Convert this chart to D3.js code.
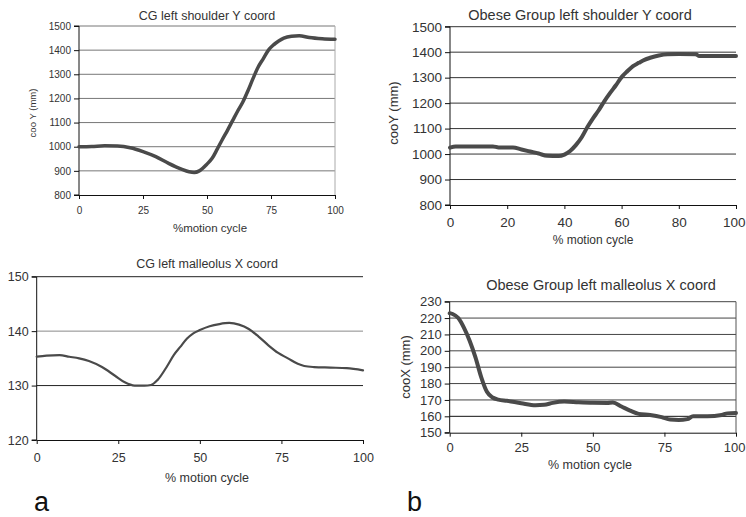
<!DOCTYPE html>
<html><head><meta charset="utf-8">
<script src="https://cdn.jsdelivr.net/npm/d3@7"></script>
<style>
html,body{margin:0;padding:0;background:#fff;}
svg text{font-family:"Liberation Sans",Arial,sans-serif;fill:#333;}
</style></head>
<body><svg id="c" width="746" height="517"></svg>
<script>
// ---- data ----
const p1X = [0,5,10,15,20,25,30,35,40,43,45,47,50,52,54,56,58,60,62,64,66,68,70,72,74,76,78,80,83,86,90,95,100];
const p1Y = [1000,1001,1004,1003,996,980,959,931,907,896,893,900,928,952,990,1030,1068,1108,1148,1185,1232,1283,1330,1365,1400,1422,1438,1450,1458,1460,1452,1447,1445];

const p2X = [0,2,15,17,22,25,28,31,34,38,40,42,44,46,48,50,52,54,56,58,60,62,64,66,68,70,73,76,80,86,87,100];
const p2Y = [1025,1030,1030,1026,1026,1018,1010,1002,993,992,998,1012,1035,1065,1105,1140,1172,1208,1240,1270,1302,1325,1345,1358,1370,1378,1387,1392,1393,1392,1385,1385];

const p3X = [0,3,7,10,13,16,20,24,27,30,33,35,37,40,42,44,46,48,50,53,56,59,62,65,68,71,74,77,80,82,85,90,95,100];
const p3Y = [135.3,135.5,135.6,135.3,135.0,134.5,133.4,131.8,130.6,130.0,130.0,130.1,131.0,133.6,135.6,137.1,138.6,139.6,140.2,140.9,141.3,141.5,141.2,140.4,139.0,137.4,136.0,135.0,134.0,133.6,133.4,133.3,133.2,132.8];

const p4X = [0,1,3,5,7,9,11,13,15,17,20,25,30,33,36,40,45,50,55,57,60,63,66,70,74,77,80,83,85,90,95,97,100];
const p4Y = [223,222.5,220,214,206,196,184,175,171.5,170.2,169.5,168,166.8,167,168.2,169,168.6,168.3,168.2,168.4,166,163.5,161.5,160.8,159.5,158,157.8,158.3,160,160,160.8,161.8,162];

const titles = ["CG left shoulder Y coord","Obese Group left shoulder Y coord","CG left malleolus X coord","Obese Group left malleolus X coord"];
const yTitles = ["coo Y (mm)","cooY (mm)","","cooX (mm)"];
const xTitles = ["%motion cycle","% motion cycle","% motion cycle","% motion cycle"];
const yTicks1 = [800,900,1000,1100,1200,1300,1400,1500];
const yTicks2 = [800,900,1000,1100,1200,1300,1400,1500];
const yTicks3 = [120,130,140,150];
const yTicks4 = [150,160,170,180,190,200,210,220,230];
const xTicks1 = [0,25,50,75,100];
const xTicks2 = [0,20,40,60,80,100];
const xTicks3 = [0,25,50,75,100];
const xTicks4 = [0,25,50,75,100];
const panelLabels = ["a","b"];

// ---- layout ----
const svg = d3.select("#c");
const W = 746;
const panels = [
  {xs:p1X, ys:p1Y, yd:[800,1500], yt:yTicks1, xt:xTicks1, x0:79, x1:335, yT:26, yB:195,
   title:titles[0], tx:207, ty:19.5, tfs:12.5, tickFs:10, xtY:214, xTitle:xTitles[0], xtitleX:210, xtitleY:232, xtitleFs:11.5,
   yTitle:yTitles[0], ytX:33, ytY:113, ytFs:9.5, lw:3.5, grid:"#777", gridW:1, rightBorder:"#aaa"},
  {xs:p2X, ys:p2Y, yd:[800,1500], yt:yTicks2, xt:xTicks2, x0:450, x1:736, yT:26.7, yB:205,
   title:titles[1], tx:580, ty:20, tfs:14.5, tickFs:13.5, xtY:227, xTitle:xTitles[1], xtitleX:593, xtitleY:244, xtitleFs:12,
   yTitle:yTitles[1], ytX:393, ytY:113, ytFs:13, lw:4, grid:"#333", gridW:1, rightBorder:null},
  {xs:p3X, ys:p3Y, yd:[120,150], yt:yTicks3, xt:xTicks3, x0:36.7, x1:363, yT:276.7, yB:440,
   title:titles[2], tx:207, ty:267.5, tfs:12.5, tickFs:12.5, xtY:461.5, xTitle:xTitles[2], xtitleX:207, xtitleY:482, xtitleFs:12.5,
   yTitle:"", lw:2.2, grid:"#222", gridW:1, gridColors:{140:"#8a8a8a"}, rightBorder:null},
  {xs:p4X, ys:p4Y, yd:[150,230], yt:yTicks4, xt:xTicks4, x0:449.7, x1:736, yT:301.7, yB:432.7,
   title:titles[3], tx:601, ty:290, tfs:14.5, tickFs:13, xtY:451.5, xTitle:xTitles[3], xtitleX:590, xtitleY:468.5, xtitleFs:12.5,
   yTitle:yTitles[3], ytX:405, ytY:367, ytFs:13, lw:4, grid:"#444", gridW:1, gridColors:{160:"#111"}, rightBorder:"#555"}
];

panels.forEach((p) => {
  const x = d3.scaleLinear().domain([0,100]).range([p.x0, p.x1]);
  const y = d3.scaleLinear().domain(p.yd).range([p.yB, p.yT]);
  const g = svg.append("g");

  // gridlines
  g.selectAll("line.grid").data(p.yt.filter(v => v !== p.yd[0])).enter().append("line")
    .attr("x1", p.x0).attr("x2", p.x1)
    .attr("y1", d => y(d)).attr("y2", d => y(d))
    .attr("stroke", d => (p.gridColors && p.gridColors[d]) || p.grid)
    .attr("stroke-width", p.gridW);

  if (p.rightBorder) {
    g.append("line").attr("x1", p.x1).attr("x2", p.x1).attr("y1", p.yT).attr("y2", p.yB)
      .attr("stroke", p.rightBorder).attr("stroke-width", 1);
  }

  // axes
  const ya = d3.axisLeft(y).tickValues(p.yt).tickSize(5).tickPadding(3).tickFormat(d3.format("d"));
  const yg = g.append("g").attr("transform", `translate(${p.x0},0)`).call(ya);
  yg.select(".domain").attr("stroke", "#111").attr("d", `M-5,${p.yT}H0V${p.yB}H-5`);
  yg.selectAll(".tick line").attr("stroke", "#111");
  yg.selectAll(".tick text").attr("font-size", p.tickFs).style("font-family", "'Liberation Sans',Arial,sans-serif").attr("fill", "#333");

  const xa = d3.axisBottom(x).tickValues(p.xt).tickSize(4).tickSizeOuter(0).tickFormat(d3.format("d"));
  const xg = g.append("g").attr("transform", `translate(0,${p.yB})`).call(xa);
  xg.select(".domain").attr("stroke", "#111");
  xg.selectAll(".tick line").attr("stroke", "#111");
  xg.selectAll(".tick text").attr("font-size", p.tickFs).style("font-family", "'Liberation Sans',Arial,sans-serif")
    .attr("fill", "#333").attr("y", null).attr("dy", null)
    .attr("transform", `translate(0,${p.xtY - p.yB})`);
  // keep edge labels inside the page
  xg.selectAll(".tick text").each(function(d) {
    const bb = this.getBBox();
    const cx = x(d);
    const right = cx + bb.width / 2;
    if (right > W - 1) d3.select(this).attr("x", (W - 1) - right);
  });

  // curve
  const pts = p.xs.map((v, i) => [v, p.ys[i]]);
  g.append("path").datum(pts)
    .attr("d", d3.line().x(d => x(d[0])).y(d => y(d[1])).curve(d3.curveMonotoneX))
    .attr("fill", "none").attr("stroke", "#4a4a4a").attr("stroke-width", p.lw)
    .attr("stroke-linejoin", "round").attr("stroke-linecap", "round");

  // titles
  g.append("text").attr("x", p.tx).attr("y", p.ty).attr("text-anchor", "middle")
    .attr("font-size", p.tfs).text(p.title);
  g.append("text").attr("x", p.xtitleX).attr("y", p.xtitleY).attr("text-anchor", "middle")
    .attr("font-size", p.xtitleFs).text(p.xTitle);
  if (p.yTitle) {
    g.append("text").attr("transform", `translate(${p.ytX},${p.ytY}) rotate(-90)`)
      .attr("text-anchor", "middle").attr("dy", "0.35em")
      .attr("font-size", p.ytFs).text(p.yTitle);
  }
});

// panel letters
svg.append("text").attr("x", 34).attr("y", 511).attr("font-size", 27).style("fill", "#111").text(panelLabels[0]);
svg.append("text").attr("x", 407).attr("y", 511).attr("font-size", 27).style("fill", "#111").text(panelLabels[1]);
</script>
</body></html>
